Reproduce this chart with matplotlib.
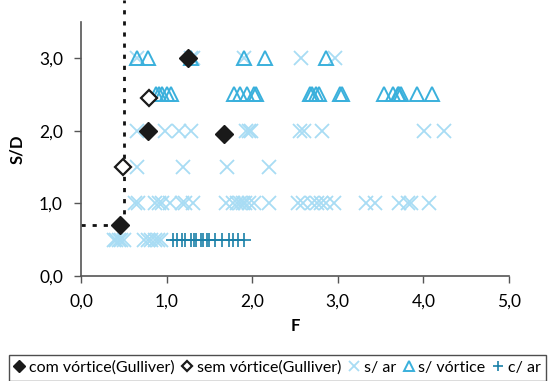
import matplotlib

matplotlib.use("Agg")
import matplotlib.pyplot as plt
from matplotlib.ticker import FuncFormatter, MultipleLocator

plt.rcParams["font.family"] = ["Lato", "DejaVu Sans"]

# com vortice (Gulliver) - filled diamonds
com_x = [1.25, 0.78, 1.67, 0.45]
com_y = [3.0, 2.0, 1.95, 0.7]

# sem vortice (Gulliver) - open diamonds
sem_x = [0.80, 0.49]
sem_y = [2.45, 1.5]

# s/ vortice - open triangles, by row of S/D
tri_30 = [0.65, 0.78, 1.29, 1.90, 2.15, 2.86]
tri_25 = [0.88, 0.91, 0.95, 1.00, 1.05, 1.79, 1.86, 1.94, 2.02, 2.04,
          2.67, 2.70, 2.74, 2.78, 3.03, 3.05, 3.54, 3.64, 3.70, 3.72,
          3.74, 3.93, 4.10]

# s/ ar - crosses, by row of S/D
x_30 = [0.65, 1.28, 1.31, 1.90, 2.57, 2.97]
x_20 = [0.65, 0.98, 1.14, 1.28, 1.93, 1.96, 1.99, 2.56, 2.60, 2.82, 4.01, 4.24]
x_15 = [0.65, 1.19, 1.70, 2.20]
x_10 = [0.63, 0.67, 0.87, 0.91, 0.95, 1.04, 1.18, 1.22, 1.31, 1.69, 1.77,
        1.82, 1.86, 1.89, 1.92, 1.96, 2.02, 2.20, 2.54, 2.59, 2.70, 2.76,
        2.80, 2.86, 2.96, 3.33, 3.43, 3.72, 3.82, 3.85, 4.07]
x_05 = [0.38, 0.41, 0.44, 0.47, 0.50, 0.74, 0.78, 0.82, 0.86, 0.90, 0.93]

# c/ ar - plus markers at S/D = 0.5
plus_x = [1.08, 1.12, 1.18, 1.22, 1.28, 1.32, 1.34, 1.40, 1.43, 1.47, 1.50,
          1.57, 1.65, 1.73, 1.77, 1.84, 1.90]
plus_y = 0.5

# dotted guide lines
guide_f = 0.5
guide_sd = 0.7

LIGHT = "#a8dcf4"
MID = "#3ab0dc"
DARK = "#1a80a8"


def comma(v, _pos):
    return f"{v:.1f}".replace(".", ",")


fig = plt.figure(figsize=(5.55, 3.81), dpi=100)
ax = fig.add_axes([0.146, 0.276, 0.771, 0.667])

cross_x = x_30 + x_20 + x_15 + x_10 + x_05
cross_y = [3.0] * len(x_30) + [2.0] * len(x_20) + [1.5] * len(x_15) + [1.0] * len(x_10) + [0.5] * len(x_05)
ax.plot(cross_x, cross_y, "x", color=LIGHT, ms=10, mew=1.3, ls="none", label="s/ ar")

tri_x = tri_30 + tri_25
tri_y = [3.0] * len(tri_30) + [2.5] * len(tri_25)
ax.plot(tri_x, tri_y, "^", mfc="none", mec=MID, ms=10, mew=1.4, ls="none", label="s/ vórtice")

ax.plot(plus_x, [plus_y] * len(plus_x), "+", color=DARK, ms=10, mew=1.2, ls="none", label="c/ ar")

ax.plot([0, guide_f], [guide_sd, guide_sd], color="#111111", lw=2, ls=(0, (1.5, 2.5)), clip_on=False)
ax.plot([guide_f, guide_f], [guide_sd, 3.8], color="#111111", lw=2, ls=(0, (1.5, 2.5)), clip_on=False)

ax.plot(com_x, com_y, "D", color="#1a1a1a", ms=9, ls="none", label="com vórtice(Gulliver)")
ax.plot(sem_x, sem_y, "D", mfc="white", mec="#1a1a1a", ms=8, mew=1.6, ls="none", label="sem vórtice(Gulliver)")

ax.set_xlim(0, 5)
ax.set_ylim(0, 3.5)
ax.xaxis.set_major_locator(MultipleLocator(1))
ax.yaxis.set_major_locator(MultipleLocator(1))
ax.xaxis.set_major_formatter(FuncFormatter(comma))
ax.yaxis.set_major_formatter(FuncFormatter(comma))
for side in ("top", "right"):
    ax.spines[side].set_visible(False)
for side in ("left", "bottom"):
    ax.spines[side].set_color("#555555")
    ax.spines[side].set_linewidth(1.2)
ax.tick_params(direction="out", length=5, width=1, color="#555555", labelsize=12.5, pad=8)

ax.set_xlabel("F", fontsize=12, fontweight="bold", labelpad=6)
ax.set_ylabel("S/D", fontsize=12, fontweight="bold", labelpad=10)

handles, labels = ax.get_legend_handles_labels()
order = [3, 4, 0, 1, 2]
leg = fig.legend(
    [handles[i] for i in order],
    [labels[i] for i in order],
    loc="lower center",
    bbox_to_anchor=(0.5, -0.02),
    ncol=5,
    fontsize=11.5,
    frameon=True,
    fancybox=False,
    edgecolor="#222222",
    handlelength=0.6,
    handletextpad=0.3,
    columnspacing=0.5,
    borderpad=0.35,
    markerscale=0.65,
)
leg.get_frame().set_linewidth(1.0)

fig.savefig("out.png", dpi=100)
